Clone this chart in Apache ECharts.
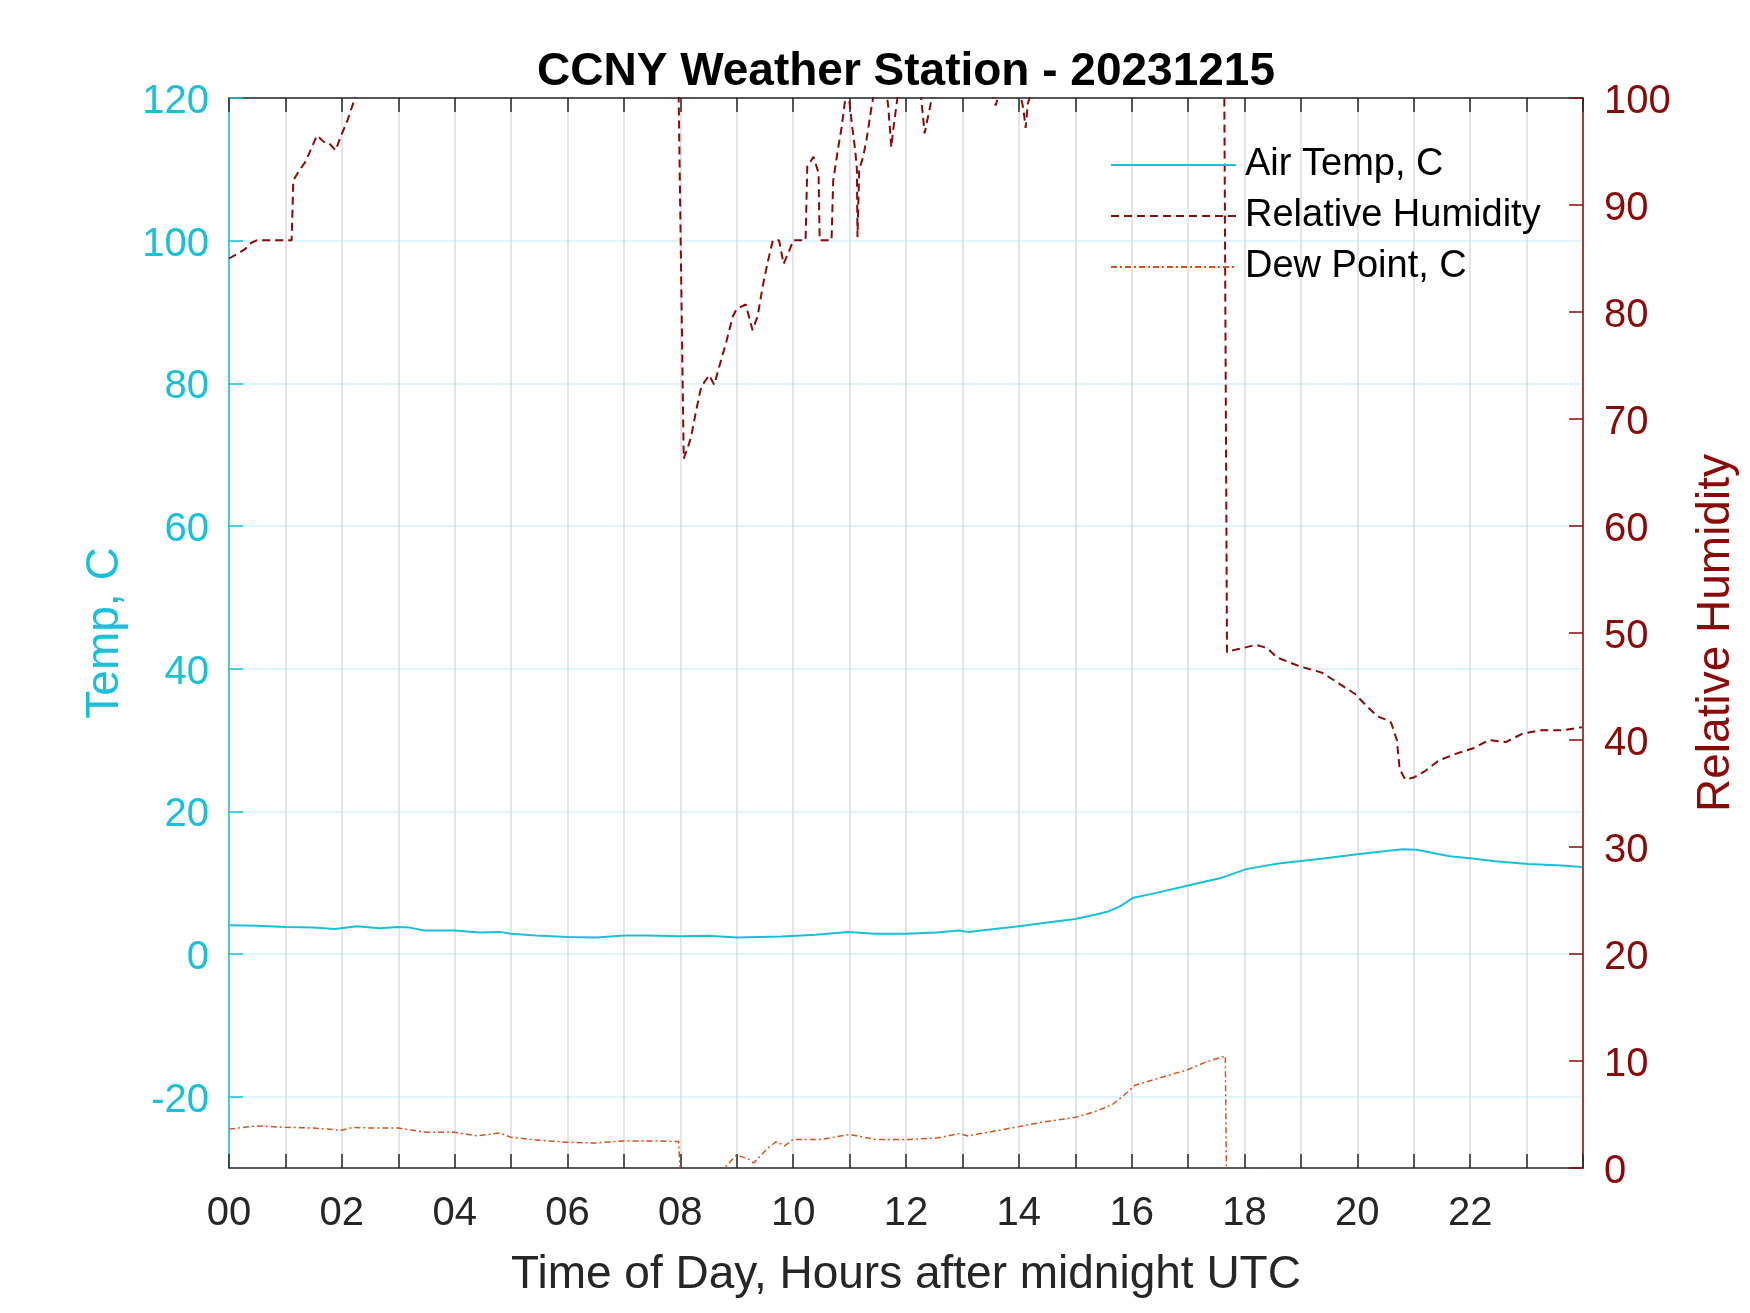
<!DOCTYPE html>
<html lang="en">
<head>
    <meta charset="UTF-8">
    <title>CCNY Weather Station - 20231215</title>
    <script src="https://cdn.jsdelivr.net/npm/echarts@6/dist/echarts.min.js"></script>
    <style>
        body { margin: 0; background: #fff; }
    </style>
</head>
<body>
<div id="main" style="width: 1750px;height: 1313px"></div>

<script>
    // hours after midnight UTC
    var tempHours = [0, 0.5, 1.0, 1.5, 1.87, 2.27, 2.67, 3.0, 3.2, 3.46, 4.0, 4.45, 4.8, 5.0, 5.44, 6.0, 6.52, 7.0, 7.41, 8.0,
        8.5, 9.0, 9.8, 10.4, 10.97, 11.45, 12.0, 12.54, 12.94, 13.1, 14.0, 14.4, 15.0, 15.35, 15.6, 15.8, 16.03, 16.4, 17.0,
        17.6, 18.03, 18.6, 19.4, 20.0, 20.8, 21.05, 21.64, 22.04, 22.44, 23.03, 23.62, 23.98];
    var tempValues = [4.03, 3.95, 3.8, 3.7, 3.5, 3.9, 3.6, 3.8, 3.7, 3.3, 3.3, 3.0, 3.1, 2.85, 2.6, 2.4, 2.3, 2.6, 2.6, 2.5,
        2.55, 2.3, 2.45, 2.7, 3.1, 2.85, 2.85, 3.0, 3.3, 3.1, 3.9, 4.3, 4.9, 5.5, 6.0, 6.7, 7.9, 8.5, 9.6,
        10.7, 11.9, 12.7, 13.4, 14.0, 14.7, 14.6, 13.7, 13.4, 13.0, 12.6, 12.4, 12.2];

    var rhHours = [0, 0.17, 0.29, 0.37, 0.49, 1.11, 1.14, 1.23, 1.35, 1.46, 1.56, 1.68, 1.77, 1.89, 1.98, 2.1, 2.22, 2.35,
        3.0, 5.0, 7.96, 8.06, 8.13, 8.19, 8.28, 8.37, 8.51, 8.6, 8.69, 8.81, 8.93, 9.0, 9.16, 9.23, 9.28, 9.37, 9.46,
        9.55, 9.64, 9.75, 9.83, 9.93, 10.0, 10.22, 10.25, 10.36, 10.45, 10.47, 10.68, 10.71, 10.8, 10.86, 10.93, 10.98,
        11.04, 11.1, 11.13, 11.14, 11.17, 11.24, 11.3, 11.39, 11.45, 11.6, 11.68, 11.74, 11.77, 11.86, 12.0, 12.25,
        12.33, 12.47, 12.6, 13.5, 13.59, 13.68, 14.0, 14.08, 14.12, 14.16, 14.25, 15.0, 17.0, 17.64, 17.69, 17.8,
        17.98, 18.2, 18.4, 18.58, 18.97, 19.37, 19.67, 19.96, 20.16, 20.36, 20.56, 20.6, 20.7, 20.75, 20.85, 21.0,
        21.2, 21.45, 21.74, 22.04, 22.34, 22.63, 22.93, 23.23, 23.62, 23.98];
    var rhValues = [85.0, 85.5, 85.9, 86.4, 86.7, 86.7, 92.3, 93.1, 94.0, 95.3, 96.5, 95.9, 95.8, 95.1, 96.4, 97.9, 99.8, 103,
        104, 104, 104, 66.3, 67.3, 68.3, 70.8, 73.0, 74.1, 73.2, 74.9, 77.1, 79.6, 80.3, 80.7, 79.3, 78.3, 79.6, 82.4,
        84.7, 86.7, 86.7, 84.5, 85.7, 86.7, 86.7, 93.6, 94.5, 93.0, 86.7, 86.7, 92.3, 95.4, 97.3, 100.2, 100.5,
        97.6, 95.1, 93.3, 87.0, 93.3, 94.5, 96.1, 99.2, 101, 102, 99.5, 95.4, 96.9, 100.5, 102, 101,
        96.7, 100.3, 102, 101, 99.3, 101, 101, 99.0, 97.2, 99.5, 101, 103, 103, 103, 48.2, 48.4,
        48.6, 48.9, 48.6, 47.7, 46.9, 46.3, 45.3, 44.3, 43.2, 42.2, 41.8, 41.6, 40.0, 37.3, 36.3, 36.5,
        37.1, 38.1, 38.7, 39.2, 40.0, 39.8, 40.6, 40.9, 40.9, 41.2];

    var dewHours = [0, 0.5, 1.0, 1.5, 2.0, 2.2, 2.5, 3.0, 3.5, 4.0, 4.4, 4.8, 5.0, 5.5, 6.0, 6.5, 7.0, 7.5, 7.97, 8.02,
        8.4, 8.7, 8.78, 8.99, 9.2, 9.3, 9.55, 9.7, 9.85, 10.0, 10.5, 11.0, 11.46, 12.05, 12.54, 12.94, 13.1, 14.0, 14.4,
        15.0, 15.35, 15.66, 15.86, 16.06, 16.4, 17.0, 17.3, 17.66, 17.69, 18.0, 18.3, 18.6, 19.0, 20.0, 21.0, 22.0,
        23.0, 23.98];
    var dewValues = [-24.55, -24.1, -24.3, -24.4, -24.7, -24.3, -24.4, -24.4, -25.0, -25.0, -25.5, -25.1, -25.7, -26.1, -26.4,
        -26.5, -26.2, -26.2, -26.3, -34, -36, -32, -30, -28.2, -28.7, -29.3, -27.2, -26.3, -26.9, -26.0, -26.0, -25.3,
        -26.0, -26.0, -25.8, -25.2, -25.5, -24.2, -23.6, -22.9, -22.1, -21.1, -19.8, -18.4, -17.6, -16.2, -15.2, -14.3,
        -40, -32, -30.2, -31, -35, -38, -37, -36, -36, -36];

    var tempTicks = [-20, 0, 20, 40, 60, 80, 100, 120];

    var cyan = '#18C0D8';
    var darkRed = '#8A0A0A';
    var orange = '#D95319';
    var axisGray = '#262626';
    var font = 'Liberation Sans, Arial, Helvetica, sans-serif';

    function pairs(xs, ys) {
        var out = [];
        for (var i = 0; i < xs.length; i++) {
            out.push([xs[i], ys[i]]);
        }
        return out;
    }

    function pad2(v) {
        return (v < 10 ? '0' : '') + v;
    }

    // y tick labels sit a little below the tick in the original
    function lowLabel(v) {
        return '{v|' + v + '}';
    }

    var chartDom = document.getElementById('main');
    var myChart = echarts.init(chartDom);
    var option;

    option = {
        animation: false,
        textStyle: { fontFamily: font },
        title: {
            text: 'CCNY Weather Station - 20231215',
            left: 906,
            top: 49,
            padding: 0,
            textAlign: 'center',
            textStyle: { fontFamily: font, fontSize: 46, fontWeight: 'bold', color: '#000' }
        },
        legend: {
            orient: 'vertical',
            left: 1110,
            top: 145,
            padding: 0,
            itemWidth: 125,
            itemHeight: 14,
            itemGap: 11,
            itemStyle: { opacity: 0 },
            textStyle: { fontFamily: font, fontSize: 38, color: '#000', lineHeight: 40, padding: [0, 0, 0, 4] },
            data: ['Air Temp, C', 'Relative Humidity', 'Dew Point, C']
        },
        grid: {
            left: 229,
            right: 167,
            top: 98,
            bottom: 145,
            containLabel: false
        },
        xAxis: [
            {
                type: 'value',
                min: 0,
                max: 24,
                interval: 1,
                name: 'Time of Day, Hours after midnight UTC',
                nameLocation: 'middle',
                nameGap: 84,
                nameTextStyle: { fontFamily: font, fontSize: 46, color: axisGray },
                axisLine: { show: true, onZero: false, lineStyle: { color: axisGray, width: 1.5 } },
                axisTick: { show: true, inside: true, length: 14, lineStyle: { color: axisGray, width: 1.5 } },
                axisLabel: {
                    margin: 26,
                    fontSize: 40,
                    color: axisGray,
                    fontFamily: font,
                    formatter: function (v) {
                        return (v % 2 === 0 && v < 24) ? pad2(v) : '';
                    }
                },
                splitLine: { show: true, lineStyle: { color: '#dadde1', width: 1.5 } }
            },
            {
                type: 'value',
                position: 'top',
                min: 0,
                max: 24,
                interval: 1,
                axisLine: { show: true, onZero: false, lineStyle: { color: axisGray, width: 1.5 } },
                axisTick: { show: true, inside: true, length: 14, lineStyle: { color: axisGray, width: 1.5 } },
                axisLabel: { show: false },
                splitLine: { show: false }
            }
        ],
        yAxis: [
            {
                type: 'value',
                position: 'left',
                min: -30,
                max: 120,
                name: 'Temp, C',
                nameLocation: 'middle',
                nameRotate: 90,
                nameGap: 101,
                nameTextStyle: { fontFamily: font, fontSize: 46, color: cyan },
                axisLine: { show: true, onZero: false, lineStyle: { color: cyan, width: 1.5 } },
                axisTick: { show: true, inside: true, length: 14, customValues: tempTicks, lineStyle: { color: cyan, width: 1.5 } },
                axisLabel: {
                    margin: 20,
                    customValues: tempTicks,
                    formatter: lowLabel,
                    rich: { v: { fontSize: 40, color: cyan, fontFamily: font, padding: [8, 0, 0, 0] } }
                },
                splitLine: { show: true, lineStyle: { color: '#d4f2f7', width: 1.5 } }
            },
            {
                type: 'value',
                position: 'right',
                min: 0,
                max: 100,
                interval: 10,
                name: 'Relative Humidity',
                nameLocation: 'middle',
                nameRotate: 90,
                nameGap: 110,
                nameTextStyle: { fontFamily: font, fontSize: 46, color: darkRed },
                axisLine: { show: true, onZero: false, lineStyle: { color: darkRed, width: 1.5 } },
                axisTick: { show: true, inside: true, length: 14, lineStyle: { color: darkRed, width: 1.5 } },
                axisLabel: {
                    margin: 21,
                    formatter: lowLabel,
                    rich: { v: { fontSize: 40, color: darkRed, fontFamily: font, padding: [8, 0, 0, 0] } }
                },
                splitLine: { show: false }
            }
        ],
        series: [
            {
                name: 'Air Temp, C',
                type: 'line',
                xAxisIndex: 0,
                yAxisIndex: 0,
                symbol: 'none',
                showSymbol: false,
                clip: true,
                lineStyle: { color: cyan, width: 2 },
                itemStyle: { color: cyan },
                data: pairs(tempHours, tempValues)
            },
            {
                name: 'Relative Humidity',
                type: 'line',
                xAxisIndex: 0,
                yAxisIndex: 1,
                symbol: 'none',
                showSymbol: false,
                clip: true,
                lineStyle: { color: darkRed, width: 2, type: [8, 5] },
                itemStyle: { color: darkRed },
                data: pairs(rhHours, rhValues)
            },
            {
                name: 'Dew Point, C',
                type: 'line',
                xAxisIndex: 0,
                yAxisIndex: 0,
                symbol: 'none',
                showSymbol: false,
                clip: true,
                lineStyle: { color: orange, width: 1.5, type: [6, 3, 2, 3] },
                itemStyle: { color: orange },
                data: pairs(dewHours, dewValues)
            }
        ]
    };

    myChart.setOption(option);
</script>
</body>
</html>
